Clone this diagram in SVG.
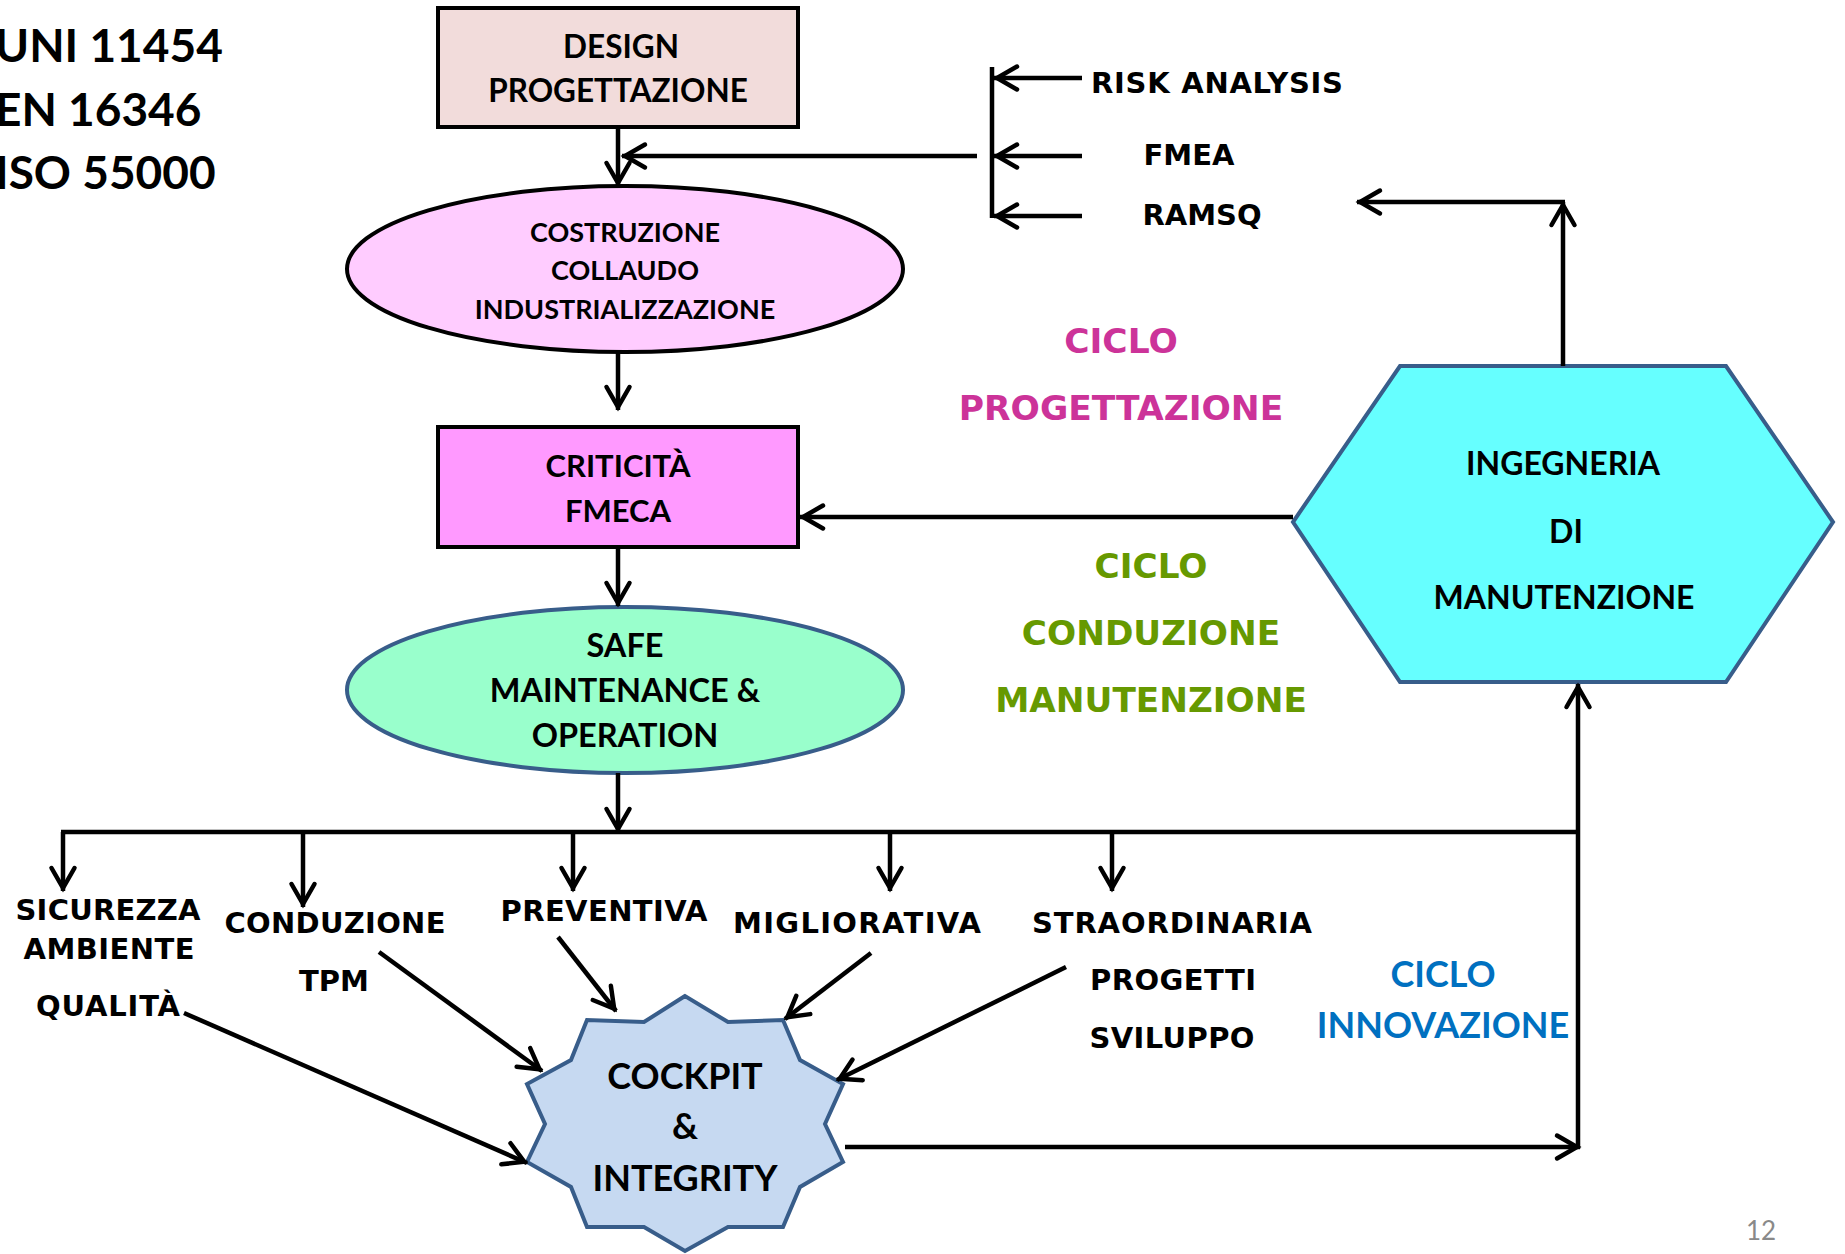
<svg xmlns="http://www.w3.org/2000/svg" width="1845" height="1254" viewBox="0 0 1845 1254">
<defs>
<marker id="arr" markerUnits="userSpaceOnUse" viewBox="-30 -16 34 32" refX="0" refY="0" markerWidth="34" markerHeight="32" orient="auto" overflow="visible">
<path d="M -23,-11.5 L -3,0 L -23,11.5" fill="none" stroke="#000" stroke-width="4.5" stroke-linecap="round"/>
</marker>
<style>
.cal{font-family:Lato,"Liberation Sans",sans-serif;font-weight:bold;fill:#000}
.ver{font-family:"DejaVu Sans","Liberation Sans",sans-serif;font-weight:bold;fill:#000}
.mid{text-anchor:middle}
.ln{stroke:#000;stroke-width:4.5;fill:none}
.ar{stroke:#000;stroke-width:4.5;fill:none;marker-end:url(#arr)}
</style>
</defs>
<rect width="1845" height="1254" fill="#fff"/>

<g id="standards">
<text class="cal" x="-5" y="62" font-size="46">UNI 11454</text>
<text class="cal" x="-5" y="126" font-size="46">EN 16346</text>
<text class="cal" x="-5" y="189" font-size="46">ISO 55000</text>
</g>

<g id="design">
<rect x="438" y="8" width="360" height="119" fill="#F2DCDB" stroke="#000" stroke-width="4"/>
<text class="cal mid" x="621" y="58" font-size="31.5">DESIGN</text>
<text class="cal mid" x="618" y="102" font-size="31.5">PROGETTAZIONE</text>
</g>

<g id="costruzione">
<ellipse cx="625" cy="269" rx="278" ry="83" fill="#FFCCFF" stroke="#000" stroke-width="4"/>
<text class="cal mid" x="625" y="242" font-size="27">COSTRUZIONE</text>
<text class="cal mid" x="625" y="280" font-size="27">COLLAUDO</text>
<text class="cal mid" x="625" y="319" font-size="27">INDUSTRIALIZZAZIONE</text>
</g>

<g id="criticita">
<rect x="438" y="427" width="360" height="120" fill="#FF99FF" stroke="#000" stroke-width="4"/>
<text class="cal mid" x="618" y="477" font-size="31">CRITICITÀ</text>
<text class="cal mid" x="618" y="522" font-size="31">FMECA</text>
</g>

<g id="safe">
<ellipse cx="625" cy="690" rx="278" ry="83" fill="#99FFCC" stroke="#385D8A" stroke-width="4"/>
<text class="cal mid" x="625" y="657" font-size="32.5">SAFE</text>
<text class="cal mid" x="625" y="702" font-size="32.5">MAINTENANCE &amp;</text>
<text class="cal mid" x="625" y="747" font-size="32.5">OPERATION</text>
</g>

<g id="ingegneria">
<polygon points="1400,366 1726,366 1833,522 1726,682 1400,682 1293,522" fill="#66FFFF" stroke="#385D8A" stroke-width="4"/>
<text class="cal mid" x="1563" y="475" font-size="32">INGEGNERIA</text>
<text class="cal mid" x="1566" y="543" font-size="32">DI</text>
<text class="cal mid" x="1564" y="609" font-size="32">MANUTENZIONE</text>
</g>

<g id="cockpit">
<polygon points="685,996 644,1022 587,1020 571,1060 527,1084 545,1124 527,1162 571,1187 587,1227 644,1227 685,1251 728,1227 783,1227 800,1187 843,1162 825,1124 843,1084 800,1060 783,1020 728,1022" fill="#C6D9F1" stroke="#385D8A" stroke-width="4"/>
<text class="cal mid" x="685" y="1089" font-size="36">COCKPIT</text>
<text class="cal mid" x="685" y="1139" font-size="36">&amp;</text>
<text class="cal mid" x="685" y="1191" font-size="36">INTEGRITY</text>
</g>

<g id="risk-labels">
<text class="ver mid" x="1217" y="93" font-size="29" textLength="252">RISK ANALYSIS</text>
<text class="ver mid" x="1189" y="165" font-size="29">FMEA</text>
<text class="ver mid" x="1202" y="225" font-size="29">RAMSQ</text>
</g>

<g id="cicli">
<text class="ver mid" x="1121" y="353" font-size="34.5" style="fill:#CC3399">CICLO</text>
<text class="ver mid" x="1121" y="420" font-size="34.5" style="fill:#CC3399">PROGETTAZIONE</text>
<text class="ver mid" x="1151" y="578" font-size="34.3" style="fill:#669900">CICLO</text>
<text class="ver mid" x="1151" y="645" font-size="34.3" style="fill:#669900">CONDUZIONE</text>
<text class="ver mid" x="1151" y="712" font-size="34.3" style="fill:#669900">MANUTENZIONE</text>
<text class="cal mid" x="1443" y="987" font-size="36" style="fill:#0070C0">CICLO</text>
<text class="cal mid" x="1443" y="1038" font-size="36" style="fill:#0070C0">INNOVAZIONE</text>
</g>

<g id="maintenance-types">
<text class="ver mid" x="108" y="920" font-size="29" textLength="185">SICUREZZA</text>
<text class="ver mid" x="109" y="959" font-size="29" textLength="171">AMBIENTE</text>
<text class="ver mid" x="108" y="1016" font-size="29" textLength="144">QUALITÀ</text>
<text class="ver mid" x="335" y="933" font-size="29" textLength="221">CONDUZIONE</text>
<text class="ver mid" x="334" y="991" font-size="29">TPM</text>
<text class="ver mid" x="604" y="921" font-size="29" textLength="207">PREVENTIVA</text>
<text class="ver mid" x="857" y="933" font-size="29" textLength="248">MIGLIORATIVA</text>
<text class="ver mid" x="1172" y="933" font-size="29" textLength="280">STRAORDINARIA</text>
<text class="ver mid" x="1173" y="990" font-size="29" textLength="166">PROGETTI</text>
<text class="ver mid" x="1172" y="1048" font-size="29" textLength="165">SVILUPPO</text>
</g>

<g id="connectors">
<line class="ar" x1="618" y1="127" x2="618" y2="186"/>
<line class="ar" x1="977" y1="156" x2="622" y2="156"/>
<line class="ln" x1="992" y1="67" x2="992" y2="218"/>
<line class="ar" x1="1082" y1="78" x2="994" y2="78"/>
<line class="ar" x1="1082" y1="156" x2="994" y2="156"/>
<line class="ar" x1="1082" y1="216" x2="994" y2="216"/>
<line class="ar" x1="1563" y1="366" x2="1563" y2="202"/>
<line class="ar" x1="1565" y1="202" x2="1357" y2="202"/>
<line class="ar" x1="618" y1="352" x2="618" y2="410"/>
<line class="ar" x1="1293" y1="517" x2="800" y2="517"/>
<line class="ar" x1="618" y1="547" x2="618" y2="606"/>
<line class="ar" x1="618" y1="773" x2="618" y2="832"/>
<line class="ln" x1="61" y1="832" x2="1580" y2="832"/>
<line class="ar" x1="63" y1="832" x2="63" y2="891"/>
<line class="ar" x1="303" y1="832" x2="303" y2="907"/>
<line class="ar" x1="573" y1="832" x2="573" y2="891"/>
<line class="ar" x1="890" y1="832" x2="890" y2="891"/>
<line class="ar" x1="1112" y1="832" x2="1112" y2="891"/>
<line class="ar" x1="184" y1="1013" x2="527" y2="1163"/>
<line class="ar" x1="379" y1="952" x2="542" y2="1071"/>
<line class="ar" x1="558" y1="937" x2="616" y2="1011"/>
<line class="ar" x1="871" y1="953" x2="785" y2="1019"/>
<line class="ar" x1="1066" y1="967" x2="837" y2="1080"/>
<line class="ar" x1="845" y1="1147" x2="1580" y2="1147"/>
<line class="ar" x1="1578" y1="1149" x2="1578" y2="684"/>
</g>

<text x="1761" y="1240" font-family="Lato,'Liberation Sans',sans-serif" font-size="26" fill="#898989" text-anchor="middle">12</text>
</svg>
